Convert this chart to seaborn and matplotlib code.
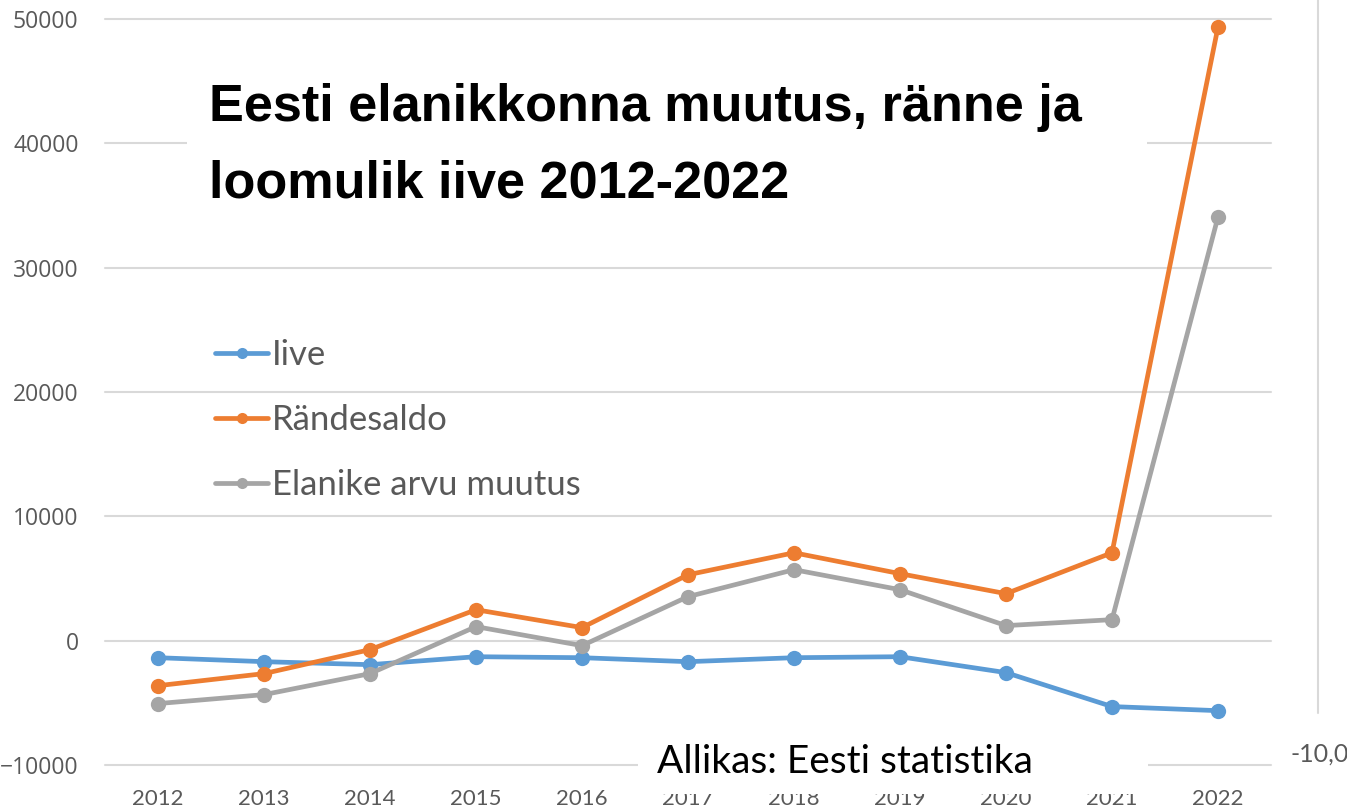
import matplotlib
matplotlib.use("Agg")
import matplotlib.pyplot as plt
import seaborn as sns
import pandas as pd
from matplotlib.patches import Rectangle
from matplotlib.lines import Line2D

# values
years = [2012, 2013, 2014, 2015, 2016, 2017, 2018, 2019, 2020, 2021, 2022]
iive = [-1370, -1690, -1930, -1290, -1370, -1690, -1370, -1290, -2570, -5300, -5630]
randesaldo = [-3620, -2650, -720, 2490, 1050, 5300, 7070, 5390, 3780, 7070, 49360]
elanike_muutus = [-5060, -4340, -2650, 1130, -400, 3540, 5710, 4100, 1210, 1690, 34080]
series_names = ["Iive", "Rändesaldo", "Elanike arvu muutus"]
y_ticks = [-10000, 0, 10000, 20000, 30000, 40000, 50000]

title_lines = ["Eesti elanikkonna muutus, ränne ja", "loomulik iive 2012-2022"]
source_text = "Allikas: Eesti statistika"

colors = ["#5B9BD5", "#ED7D31", "#A5A5A5"]
grey_text = "#595959"
grid_col = "#D9D9D9"

W, H = 1347, 806

df = pd.DataFrame({
    "year": years * 3,
    "value": iive + randesaldo + elanike_muutus,
    "series": [series_names[0]] * len(years) + [series_names[1]] * len(years) + [series_names[2]] * len(years),
})

sns.set_style("white")

fig = plt.figure(figsize=(W / 100, H / 100), dpi=100)
ax = fig.add_axes([105 / W, 1 - 765 / H, (1271 - 105) / W, (765 - 19) / H])

sns.lineplot(data=df, x="year", y="value", hue="series", palette=colors,
             marker="o", markersize=11, markeredgewidth=0, linewidth=3.4, ax=ax)

ax.set_xlim(2011.5, 2022.5)
ax.set_ylim(-10000, 50000)
ax.set_xticks(years)
ax.set_yticks(y_ticks)
ax.set_xlabel("")
ax.set_ylabel("")
ax.grid(axis="y", color=grid_col, linewidth=1.5)
ax.grid(axis="x", visible=False)
ax.set_axisbelow(True)
for line in ax.get_ygridlines():
    line.set_clip_on(False)
sns.despine(ax=ax, left=True, bottom=True)
ax.tick_params(axis="both", length=0, colors=grey_text)
ax.tick_params(axis="x", pad=17)
ax.tick_params(axis="y", pad=19)
for lbl in ax.get_xticklabels():
    lbl.set_fontfamily("Lato")
    lbl.set_fontsize(16)
for lbl in ax.get_yticklabels():
    lbl.set_fontfamily("Open Sans")
    lbl.set_fontsize(16.5)

# legend without frame, smaller markers
handles, labels = ax.get_legend_handles_labels()
leg = ax.legend(handles, labels, loc="center left",
                bbox_to_anchor=(215 / W, 1 - 420 / H), bbox_transform=fig.transFigure,
                frameon=False, prop={"family": "Lato", "size": 25},
                labelcolor=grey_text, handlelength=1.53, handletextpad=0.12,
                labelspacing=0.95, borderpad=0, borderaxespad=0)
for h in leg.legend_handles:
    h.set_markersize(8)
    h.set_linewidth(3.4)

# white boxes behind title and source note
ax.add_patch(Rectangle((187 / W, 1 - 240 / H), (1147 - 187) / W, (240 - 45) / H,
                       transform=fig.transFigure, facecolor="white", edgecolor="none",
                       zorder=1, clip_on=False))
ax.add_patch(Rectangle((638 / W, 1 - 794 / H), (1148 - 638) / W, (794 - 735) / H,
                       transform=fig.transFigure, facecolor="white", edgecolor="none",
                       zorder=1, clip_on=False))

fig.text(209 / W, 1 - 121 / H, title_lines[0], fontsize=37.6, fontweight="bold",
         family="Liberation Sans", va="baseline", color="black")
fig.text(209 / W, 1 - 197 / H, title_lines[1], fontsize=37.6, fontweight="bold",
         family="Liberation Sans", va="baseline", color="black")

fig.text(657 / W, 1 - 773 / H, source_text, fontsize=28, family="Lato",
         va="baseline", color="black")

# leftover axis from a second chart at the right edge
fig.add_artist(Line2D([1318 / W, 1318 / W], [1, 1 - 713 / H], transform=fig.transFigure,
                      color=grid_col, linewidth=1.5))
fig.text(1291 / W, 1 - 762 / H, "-10,0", fontsize=18, family="Lato",
         va="baseline", color=grey_text)

fig.savefig("out.png", dpi=100)
